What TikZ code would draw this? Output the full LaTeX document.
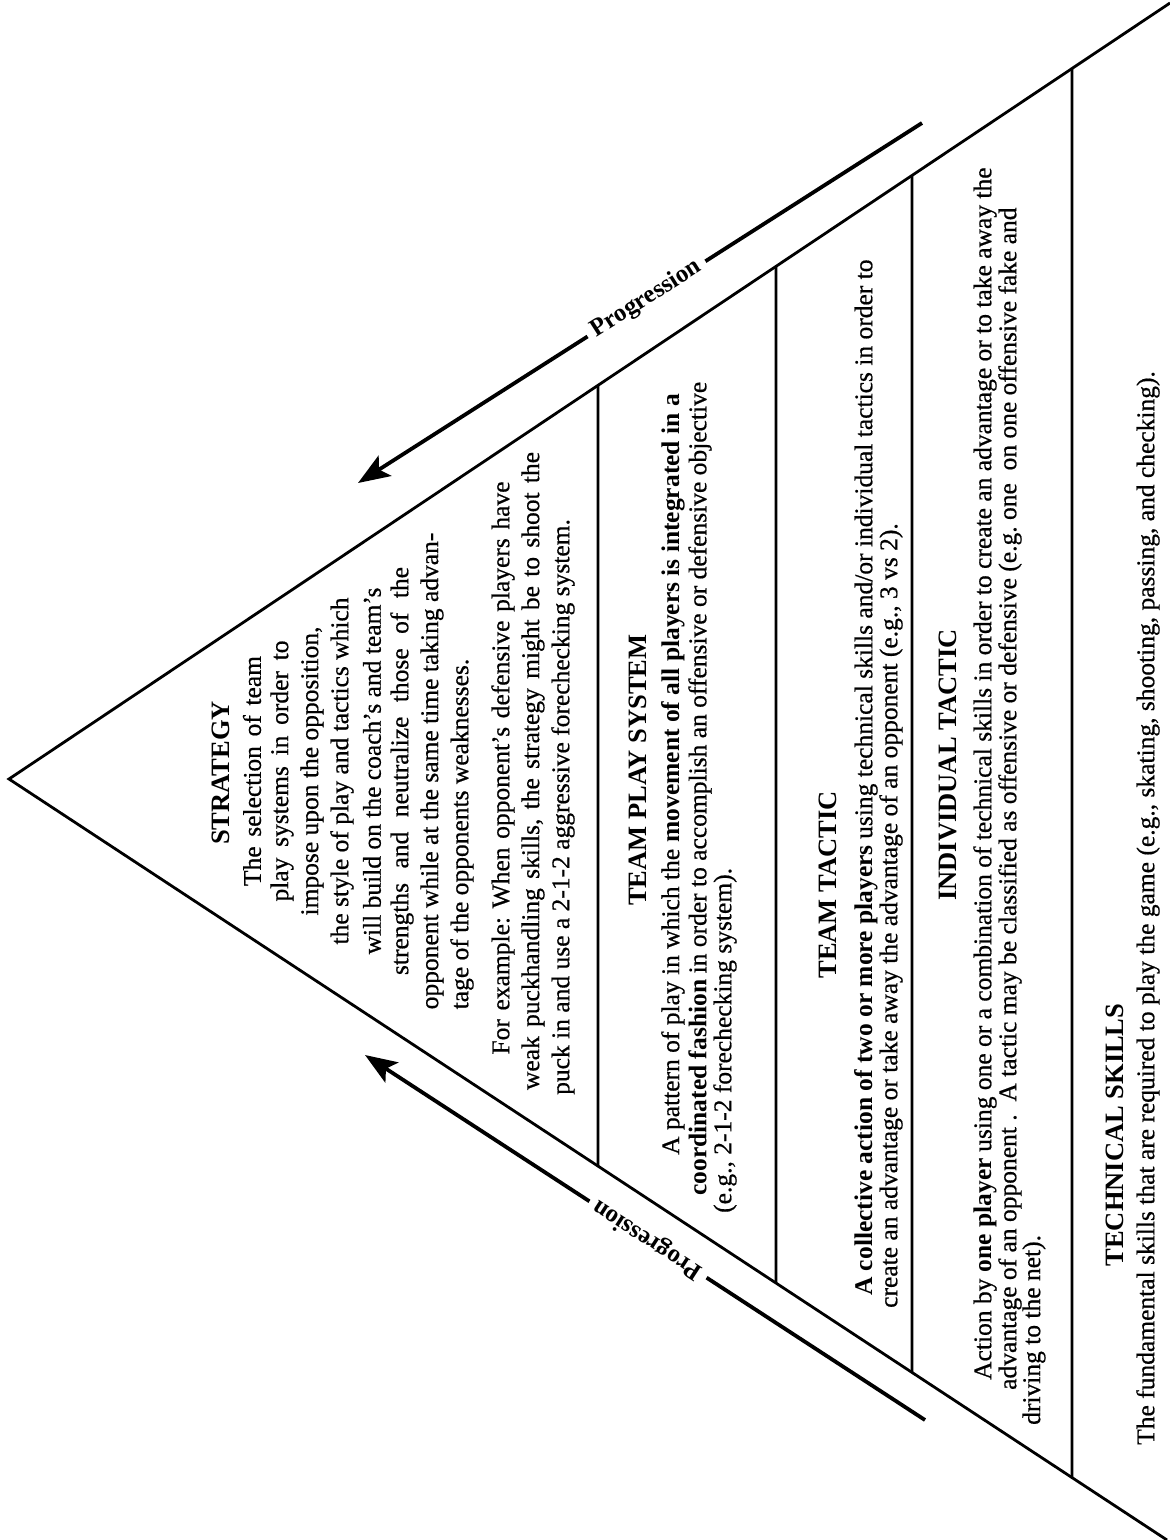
\documentclass[tikz,border=0pt]{standalone}
\usepackage{fontspec}
\setmainfont{Liberation Serif}[UprightFeatures={FakeBold=0.6}]
\usetikzlibrary{arrows.meta,calc}
\begin{document}
\frenchspacing
\begin{tikzpicture}[x=1pt,y=-1pt,
  edge/.style={line width=2.8pt,line join=miter},
  sepline/.style={line width=2.6pt},
  progline/.style={line width=3.8pt},
  body/.style={rotate=90,inner sep=0pt,font=\fontsize{25.5}{26}\selectfont\frenchspacing},
  bodyL/.style={body,anchor=west},
  head/.style={rotate=90,inner sep=0pt,font=\fontsize{26.5}{27}\selectfont\bfseries},
  proglabel/.style={inner xsep=7pt,inner ysep=0pt,font=\fontsize{25}{25}\selectfont\bfseries},
  tip/.style={-{Stealth[length=32pt,width=24pt,inset=7pt]}},
]
\useasboundingbox (0,0) rectangle (1170,1540);
% triangle
\coordinate (A) at (9,779);
\coordinate (T) at (1170,3);
\coordinate (B) at (1167,1540);
\draw[edge] (T) -- (A) -- (B);
% band separators
\draw[sepline] ($(A)!0.50732!(T)$) coordinate (s1t) -- ($(A)!0.50864!(B)$) coordinate (s1b);
\draw[sepline] ($(A)!0.66064!(T)$) coordinate (s2t) -- ($(A)!0.66235!(B)$) coordinate (s2b);
\draw[sepline] ($(A)!0.77778!(T)$) coordinate (s3t) -- ($(A)!0.77979!(B)$) coordinate (s3b);
\draw[sepline] ($(A)!0.91559!(T)$) coordinate (s4t) -- ($(A)!0.91796!(B)$) coordinate (s4b);
% progression arrows
\coordinate (u1) at (922,123);
\coordinate (u2) at (358,483);
\node[proglabel,rotate=32.55] (pu) at ($(u1)!0.4885!(u2)$) {Progression};
\draw[progline] (u1) -- (pu);
\draw[progline,tip] (pu) -- (u2);
\coordinate (l1) at (925,1420);
\coordinate (l2) at (365,1055);
\node[proglabel,rotate=146.9] (pl) at ($(l1)!0.4946!(l2)$) {Progression};
\draw[progline] (l1) -- (pl);
\draw[progline,tip] (pl) -- (l2);
% STRATEGY
\node[head] (h1) at (221,773) {STRATEGY};
\node[body] (st1) at (252,771) {\makebox[230pt][s]{The selection of team}};
\node[body] (st2) at (282,771) {\makebox[261pt][s]{play systems in order to}};
\node[body] (st3) at (312,771) {impose upon the opposition,};
\node[body] (st4) at (342,771) {the style of play and tactics which};
\node[body] (st5) at (372,771) {will build on the coach’s and team’s};
\node[body] (st6) at (402,771) {\makebox[408pt][s]{strengths and neutralize those of the}};
\node[body] (st7) at (432,771) {opponent while at the same time taking advan-};
\node[bodyL] (st8) at ($(st7.west)+(30,0)$) {tage of the opponents weaknesses.};
\node[body] (ex1) at (503,768) {\makebox[573pt][s]{For example: When opponent’s defensive players have}};
\node[body] (ex2) at (533,771) {\makebox[638pt][s]{weak puckhandling skills, the strategy might be to shoot the}};
\node[bodyL] (ex3) at (563,1095) {puck in and use a 2-1-2 aggressive forechecking system.};
% TEAM PLAY SYSTEM
\node[head] (h2) at (638,770) {TEAM PLAY SYSTEM};
\node[bodyL] (tp1) at (673,1155) {A pattern of play in which the \textbf{movement of all players is integrated in a}};
\node[bodyL] (tp2) at (700,1196) {\textbf{coordinated fashion} in order to accomplish an offensive or defensive objective};
\node[bodyL] (tp3) at (725,1213) {(e.g., 2-1-2 forechecking system).};
% TEAM TACTIC
\node[head] (h3) at (828,885) {TEAM TACTIC};
\node[bodyL] (tt1) at (866,1296) {\textbf{A collective action of two or more players} using technical skills and/or individual tactics in order to};
\node[bodyL] (tt2) at (891,1308) {create an advantage or take away the advantage of an opponent (e.g., 3 vs 2).};
% INDIVIDUAL TACTIC
\node[head] (h4) at (948,765) {INDIVIDUAL TACTIC};
\node[bodyL] (it1) at (985,1380) {Action by \textbf{one player} using one or a combination of technical skills in order to create an advantage or to take away the};
\node[bodyL] (it2) at (1010,1390) {advantage of an opponent .\ \ A tactic may be classified as offensive or defensive (e.g. one\ \ on one offensive fake and};
\node[bodyL] (it3) at (1034,1425) {driving to the net).};
% TECHNICAL SKILLS
\node[head] (h5) at (1115,1135) {TECHNICAL SKILLS};
\node[bodyL] (ts1) at (1148,1445) {The fundamental skills that are required to play the game (e.g., skating, shooting, passing, and checking).};
\end{tikzpicture}
\end{document}
